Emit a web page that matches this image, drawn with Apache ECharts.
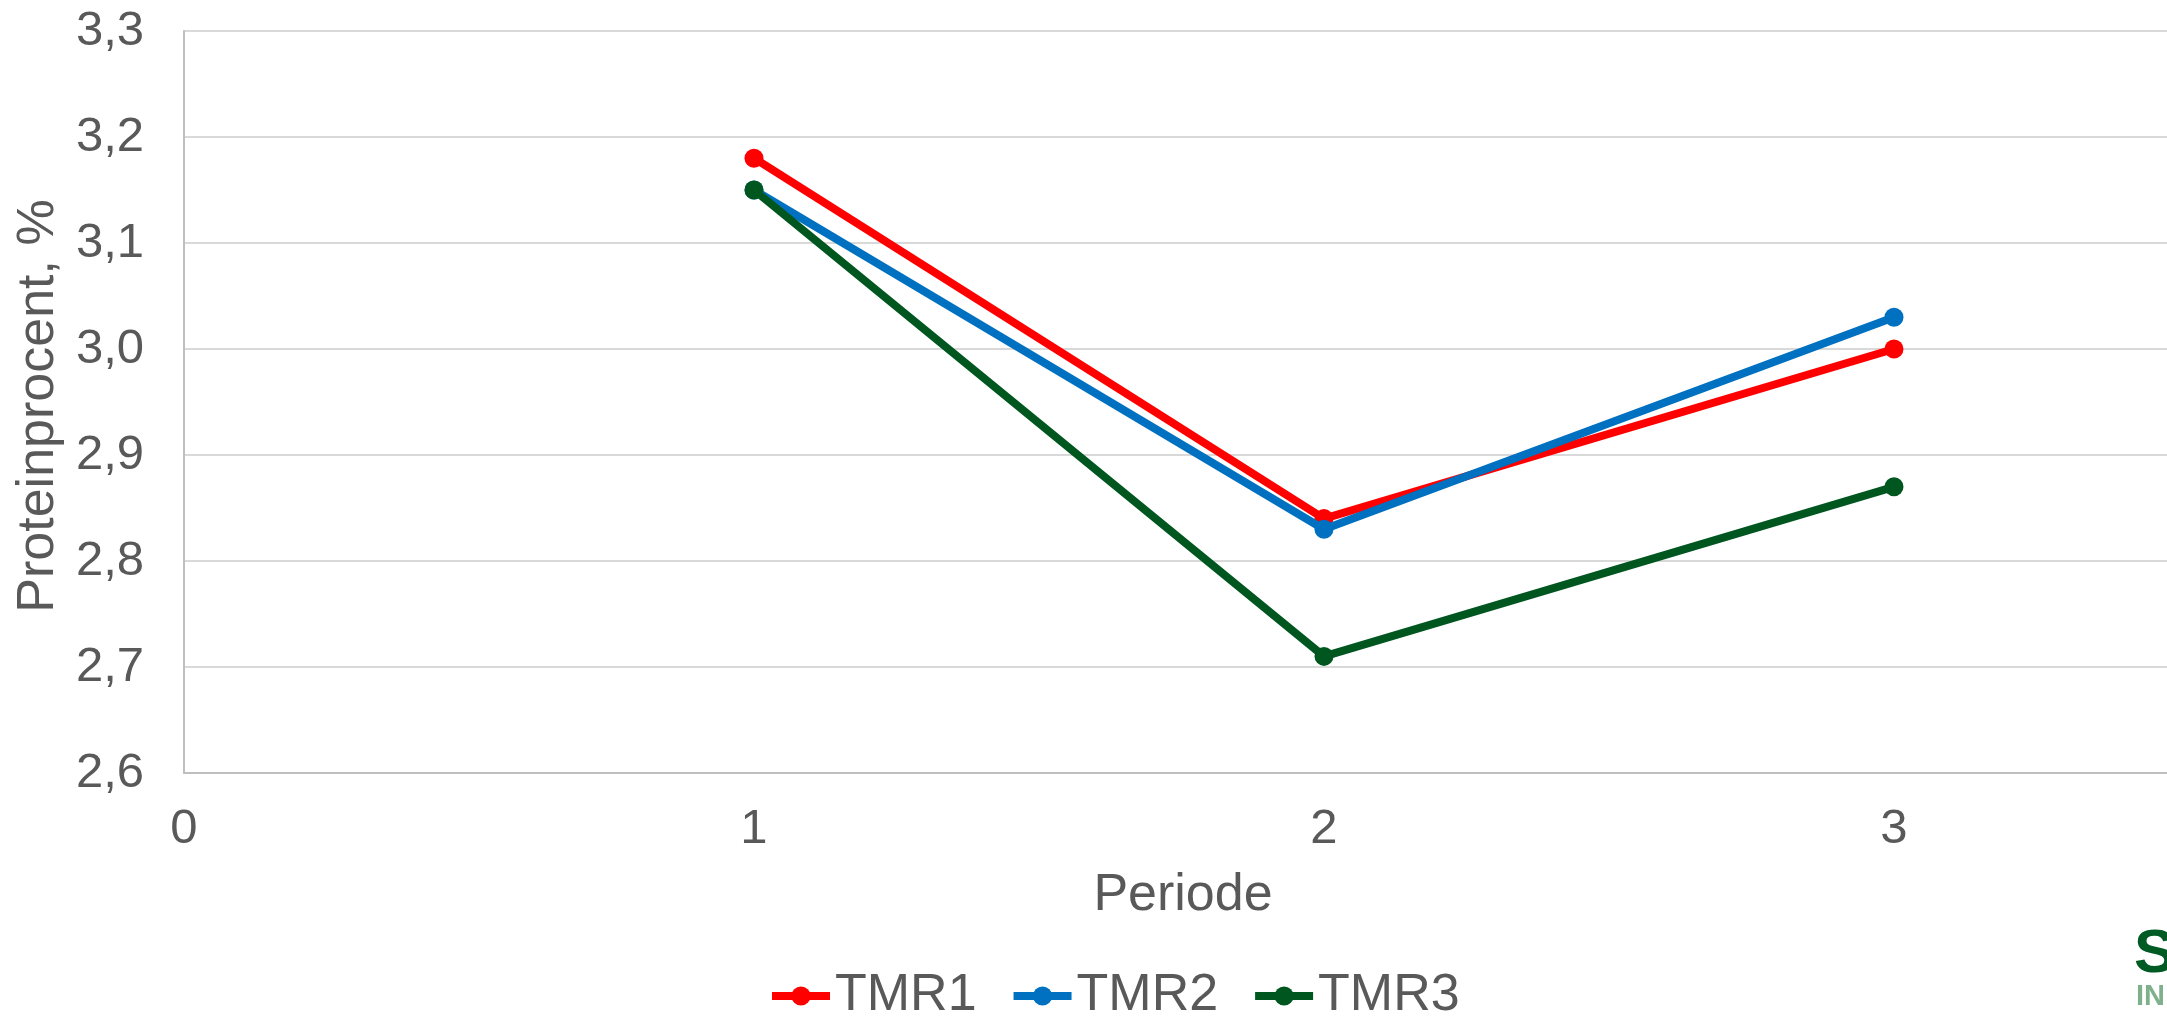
<!DOCTYPE html>
<html>
<head>
<meta charset="utf-8">
<script src="https://cdn.jsdelivr.net/npm/echarts@6/dist/echarts.min.js"></script>
<style>
  html, body { margin: 0; padding: 0; overflow: hidden; background: #ffffff; }
  #chart { width: 2480px; height: 1018px; }
</style>
</head>
<body>
<div id="chart"></div>
<script>
// Protein percentage per period for three TMR feeding groups
const periods = [1, 2, 3];
const seriesNames = ['TMR1', 'TMR2', 'TMR3'];
const tmr1 = [3.18, 2.84, 3.00];
const tmr2 = [3.15, 2.83, 3.03];
const tmr3 = [3.15, 2.71, 2.87];
const seriesColors = ['#ff0000', '#0070c0', '#00561f'];

const xTitle = 'Periode';
const yTitle = 'Proteinprocent, %';

const FONT = '"Liberation Sans", Arial, sans-serif';
const TEXT = '#595959';

const values = [tmr1, tmr2, tmr3];
const chart = echarts.init(document.getElementById('chart'), null, { renderer: 'canvas' });

chart.setOption({
  backgroundColor: '#ffffff',
  animation: false,
  textStyle: { fontFamily: FONT },
  grid: { left: 184, right: 16, top: 31, bottom: 245, containLabel: false, outerBoundsMode: 'none' },
  xAxis: {
    type: 'value',
    min: 0,
    max: 4,
    interval: 1,
    axisLine: { show: true, lineStyle: { color: '#bfbfbf', width: 2 } },
    axisTick: { show: false },
    splitLine: { show: false },
    axisLabel: { color: TEXT, fontSize: 49, fontFamily: FONT, margin: 32 }
  },
  yAxis: {
    type: 'value',
    min: 2.6,
    max: 3.3,
    interval: 0.1,
    axisLine: { show: true, lineStyle: { color: '#bfbfbf', width: 2 } },
    axisTick: { show: false },
    splitLine: { show: true, lineStyle: { color: '#d9d9d9', width: 2 } },
    axisLabel: {
      color: TEXT, fontSize: 49, fontFamily: FONT, margin: 40,
      formatter: v => v.toFixed(1).replace('.', ',')
    }
  },
  legend: {
    left: 763,
    top: 965,
    itemWidth: 58,
    itemHeight: 24,
    itemGap: 33,
    lineStyle: { width: 8 },
    textStyle: { color: TEXT, fontSize: 52, fontFamily: FONT },
    data: seriesNames
  },
  series: seriesNames.map((name, i) => ({
    name: name,
    type: 'line',
    data: periods.map((p, j) => [p, values[i][j]]),
    symbol: 'circle',
    symbolSize: 19,
    color: seriesColors[i],
    lineStyle: { width: 8, color: seriesColors[i] },
    itemStyle: { color: seriesColors[i] },
    z: 2 + i
  })),
  graphic: [
    {
      type: 'text',
      x: 39, y: 406,
      rotation: Math.PI / 2,
      style: { text: yTitle, font: '52px ' + FONT, fill: TEXT, align: 'center', verticalAlign: 'middle' }
    },
    {
      type: 'text',
      x: 1183, y: 896,
      style: { text: xTitle, font: '52px ' + FONT, fill: TEXT, align: 'center', verticalAlign: 'middle' }
    },
    {
      type: 'text',
      x: 2134, y: 955,
      style: { text: 'S', font: 'bold 62px ' + FONT, fill: '#005a23', align: 'left', verticalAlign: 'middle' }
    },
    {
      type: 'text',
      x: 2136, y: 997,
      style: { text: 'IN', font: 'bold 29px ' + FONT, fill: '#7fb08c', align: 'left', verticalAlign: 'middle' }
    }
  ]
});
</script>
</body>
</html>
